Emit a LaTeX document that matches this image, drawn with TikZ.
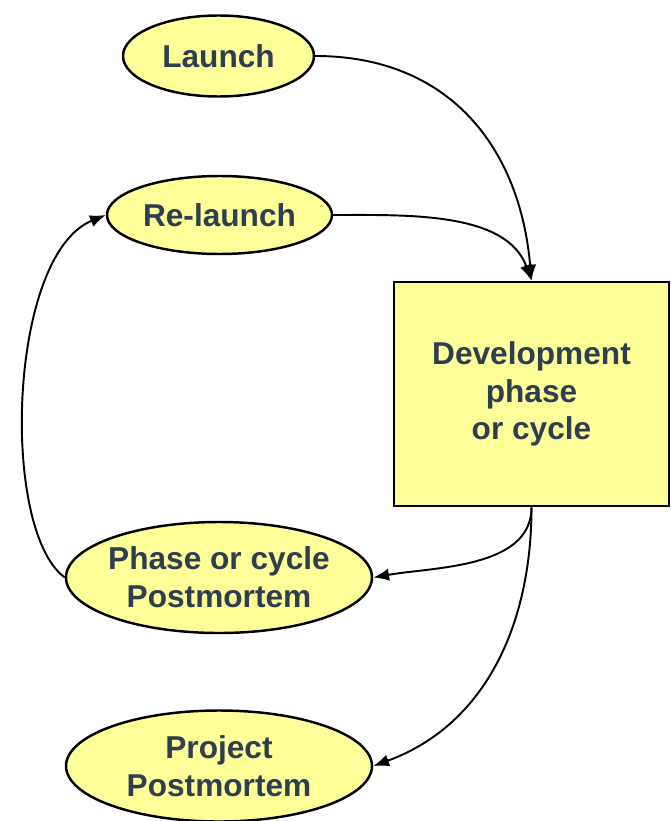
\documentclass[tikz,border=0pt]{standalone}
\usepackage{fontspec}
\setmainfont{Liberation Sans}
\usetikzlibrary{shapes.geometric,arrows.meta}
\definecolor{padyellow}{RGB}{255,255,153}
\definecolor{slatetext}{RGB}{46,62,80}

\begin{document}
\begin{tikzpicture}[x=0.02cm,y=-0.02cm,
   bubble/.style={ellipse,draw,line width=1.4pt,fill=padyellow,inner sep=-4pt,
                  text=slatetext,font=\fontsize{18}{21.5}\selectfont\bfseries,align=center},
   stage/.style={rectangle,draw,line width=1.6pt,fill=padyellow,inner sep=0pt,
                 text=slatetext,font=\fontsize{18}{21.5}\selectfont\bfseries,align=center},
   flow/.style={-{Latex[length=9pt,width=7pt]},line width=1.1pt}]

   % Frame
   \useasboundingbox (0,0) rectangle (670,821);

   % Nodes
   \node[bubble,minimum width=191*0.02cm,minimum height=81*0.02cm] (launch) at (218.5,56) {Launch};
   \node[bubble,minimum width=225*0.02cm,minimum height=78*0.02cm] (relaunch) at (219.5,215) {Re-launch};
   \node[stage,minimum width=275*0.02cm,minimum height=224*0.02cm] (dev) at (531.5,394) {Development\\phase\\or cycle};
   \node[bubble,minimum width=306*0.02cm,minimum height=111*0.02cm] (phasepm) at (219,577.5) {Phase or cycle\\Postmortem};
   \node[bubble,minimum width=306*0.02cm,minimum height=111*0.02cm] (projpm) at (219,766) {Project\\Postmortem};

   % Connectors
   \draw[flow] (launch.east) to[out=0,in=95,looseness=1.1] (dev.north);
   \draw[flow] (relaunch.east) to[out=0,in=110,looseness=0.9] (dev.north);
   \draw[flow] (dev.south) to[out=-90,in=10,looseness=0.9] (phasepm.east);
   \draw[flow] (dev.south) to[out=-90,in=20,looseness=1] (projpm.east);
   \draw[flow] (phasepm.west) .. controls (0,530) and (8,255) .. (relaunch.west);

\end{tikzpicture}
\end{document}
